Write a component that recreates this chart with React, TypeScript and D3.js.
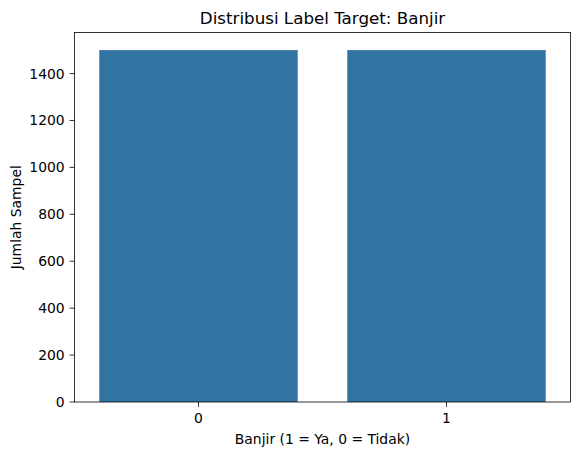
import React, { useEffect, useRef } from 'react';
import * as d3 from 'd3';

const categories = ['0', '1'];
const counts = [1500, 1500];
const yTicks = [0, 200, 400, 600, 800, 1000, 1200, 1400];

const titleText = 'Distribusi Label Target: Banjir';
const xLabelText = 'Banjir (1 = Ya, 0 = Tidak)';
const yLabelText = 'Jumlah Sampel';

const BAR_COLOR = '#3274a1';
const FONT = '"DejaVu Sans", sans-serif';

export default function App() {
  const svgRef = useRef<SVGSVGElement>(null);

  useEffect(() => {
    if (!svgRef.current) return;
    const width = 580;
    const height = 455;
    const left = 74.5, right = 570.5, top = 32.5, bottom = 402;

    const svg = d3.select(svgRef.current);
    svg.selectAll('*').remove();

    const x = d3.scaleLinear().domain([-0.5, categories.length - 0.5]).range([left, right]);
    const y = d3.scaleLinear().domain([0, d3.max(counts)! * 1.05]).range([bottom, top]);

    // bars
    svg.append('g')
      .selectAll('rect')
      .data(counts)
      .enter().append('rect')
      .attr('x', (_d, i) => x(i - 0.4))
      .attr('width', x(0.4) - x(-0.4))
      .attr('y', d => y(d))
      .attr('height', d => y(0) - y(d))
      .attr('fill', BAR_COLOR);

    // spines
    svg.append('rect')
      .attr('x', left).attr('y', top)
      .attr('width', right - left).attr('height', bottom - top)
      .attr('fill', 'none').attr('stroke', '#000').attr('stroke-width', 0.8);

    // y ticks
    const yt = svg.append('g');
    yt.selectAll('line')
      .data(yTicks)
      .enter().append('line')
      .attr('x1', left - 4.9).attr('x2', left)
      .attr('y1', d => y(d)).attr('y2', d => y(d))
      .attr('stroke', '#000').attr('stroke-width', 0.8);
    yt.selectAll('text')
      .data(yTicks)
      .enter().append('text')
      .attr('x', left - 9.8)
      .attr('y', d => y(d))
      .attr('dy', '0.36em')
      .attr('text-anchor', 'end')
      .style('font-family', FONT)
      .style('font-size', '13.9px')
      .attr('fill', '#000')
      .text(d => String(d));

    // x ticks
    const xt = svg.append('g');
    xt.selectAll('line')
      .data(categories)
      .enter().append('line')
      .attr('x1', (_d, i) => x(i)).attr('x2', (_d, i) => x(i))
      .attr('y1', bottom).attr('y2', bottom + 4.9)
      .attr('stroke', '#000').attr('stroke-width', 0.8);
    xt.selectAll('text')
      .data(categories)
      .enter().append('text')
      .attr('x', (_d, i) => x(i))
      .attr('y', 423)
      .attr('text-anchor', 'middle')
      .style('font-family', FONT)
      .style('font-size', '13.9px')
      .attr('fill', '#000')
      .text(d => d);

    // labels
    svg.append('text')
      .attr('x', (left + right) / 2).attr('y', 443.5)
      .attr('text-anchor', 'middle')
      .style('font-family', FONT).style('font-size', '13.9px')
      .text(xLabelText);

    svg.append('text')
      .attr('transform', `translate(21,${(top + bottom) / 2}) rotate(-90)`)
      .attr('text-anchor', 'middle')
      .style('font-family', FONT).style('font-size', '13.9px')
      .text(yLabelText);

    svg.append('text')
      .attr('x', (left + right) / 2).attr('y', 24)
      .attr('text-anchor', 'middle')
      .style('font-family', FONT).style('font-size', '16.7px')
      .text(titleText);

    svg.attr('width', width).attr('height', height);
  }, []);

  return (
    <div style={{ position: 'absolute', left: 0, top: 0, background: '#fff' }}>
      <svg ref={svgRef} width={580} height={455} style={{ display: 'block' }}></svg>
    </div>
  );
}
